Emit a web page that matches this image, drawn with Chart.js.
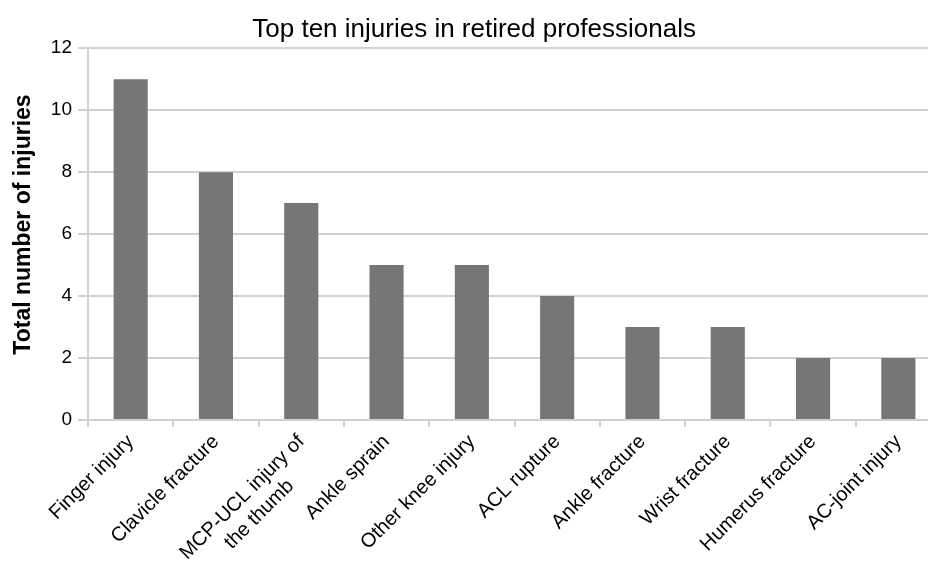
<!DOCTYPE html>
<html>
<head>
<meta charset="utf-8">
<script src="https://cdn.jsdelivr.net/npm/chart.js@4"></script>
<style>
  html, body { margin: 0; padding: 0; background: #fff; overflow: hidden; }
  #wrap { width: 928px; height: 565px; overflow: hidden; }
  #box { width: 953px; height: 565px; }
</style>
</head>
<body>
<div id="wrap"><div id="box"><canvas id="grafica"></canvas></div></div>
<script>
  // datos del grafico
  const lesiones = [
    "Finger injury",
    "Clavicle fracture",
    ["MCP-UCL injury of", "the thumb       "], // espacios para centrar la 2a linea
    "Ankle sprain",
    "Other knee injury",
    "ACL rupture",
    "Ankle fracture",
    "Wrist fracture",
    "Humerus fracture",
    "AC-joint injury"
  ];
  const totales = [11, 8, 7, 5, 5, 4, 3, 3, 2, 2];
  const ticksY = [0, 2, 4, 6, 8, 10, 12];

  const gris = "#d0d0d0";
  const fuente = "'Liberation Sans', Arial, sans-serif";

  const ctx = document.getElementById("grafica").getContext("2d");

  new Chart(ctx, {
    type: "bar",
    data: {
      labels: lesiones,
      datasets: [{
        label: "Total",
        data: totales,
        backgroundColor: "#767676",
        borderWidth: 0,
        barPercentage: 0.4,
        categoryPercentage: 1
      }]
    },
    options: {
      responsive: true,
      maintainAspectRatio: false,
      animation: false,
      layout: { padding: { left: 0, right: 12, top: 0, bottom: 0 } },
      plugins: {
        legend: { display: false },
        tooltip: { enabled: false },
        title: {
          display: true,
          text: " Top ten injuries in retired professionals",
          color: "#000",
          font: { family: fuente, size: 26, weight: "normal" },
          padding: { top: 14, bottom: 3 }
        }
      },
      scales: {
        x: {
          afterFit: (scale) => { scale.height = 145; },
          grid: {
            display: true,
            drawOnChartArea: false,
            color: gris,
            lineWidth: 2,
            tickLength: 7,
            offset: true
          },
          border: { color: gris, width: 2 },
          ticks: {
            color: "#000",
            font: { family: fuente, size: 20 },
            maxRotation: 45,
            minRotation: 45,
            autoSkip: false,
            padding: 3
          }
        },
        y: {
          min: 0,
          max: 12,
          afterFit: (scale) => { scale.width = 88; },
          afterBuildTicks: (axis) => {
            axis.ticks = ticksY.map(v => ({ value: v }));
          },
          grid: {
            color: gris,
            lineWidth: 2,
            tickLength: 10
          },
          border: { color: gris, width: 2 },
          ticks: {
            color: "#000",
            font: { family: fuente, size: 19 },
            padding: 6
          },
          title: {
            display: true,
            text: "   Total number of injuries",
            color: "#000",
            font: { family: fuente, size: 23, weight: "bold" },
            padding: { top: 10, bottom: 0 }
          }
        }
      }
    }
  });
</script>
</body>
</html>
